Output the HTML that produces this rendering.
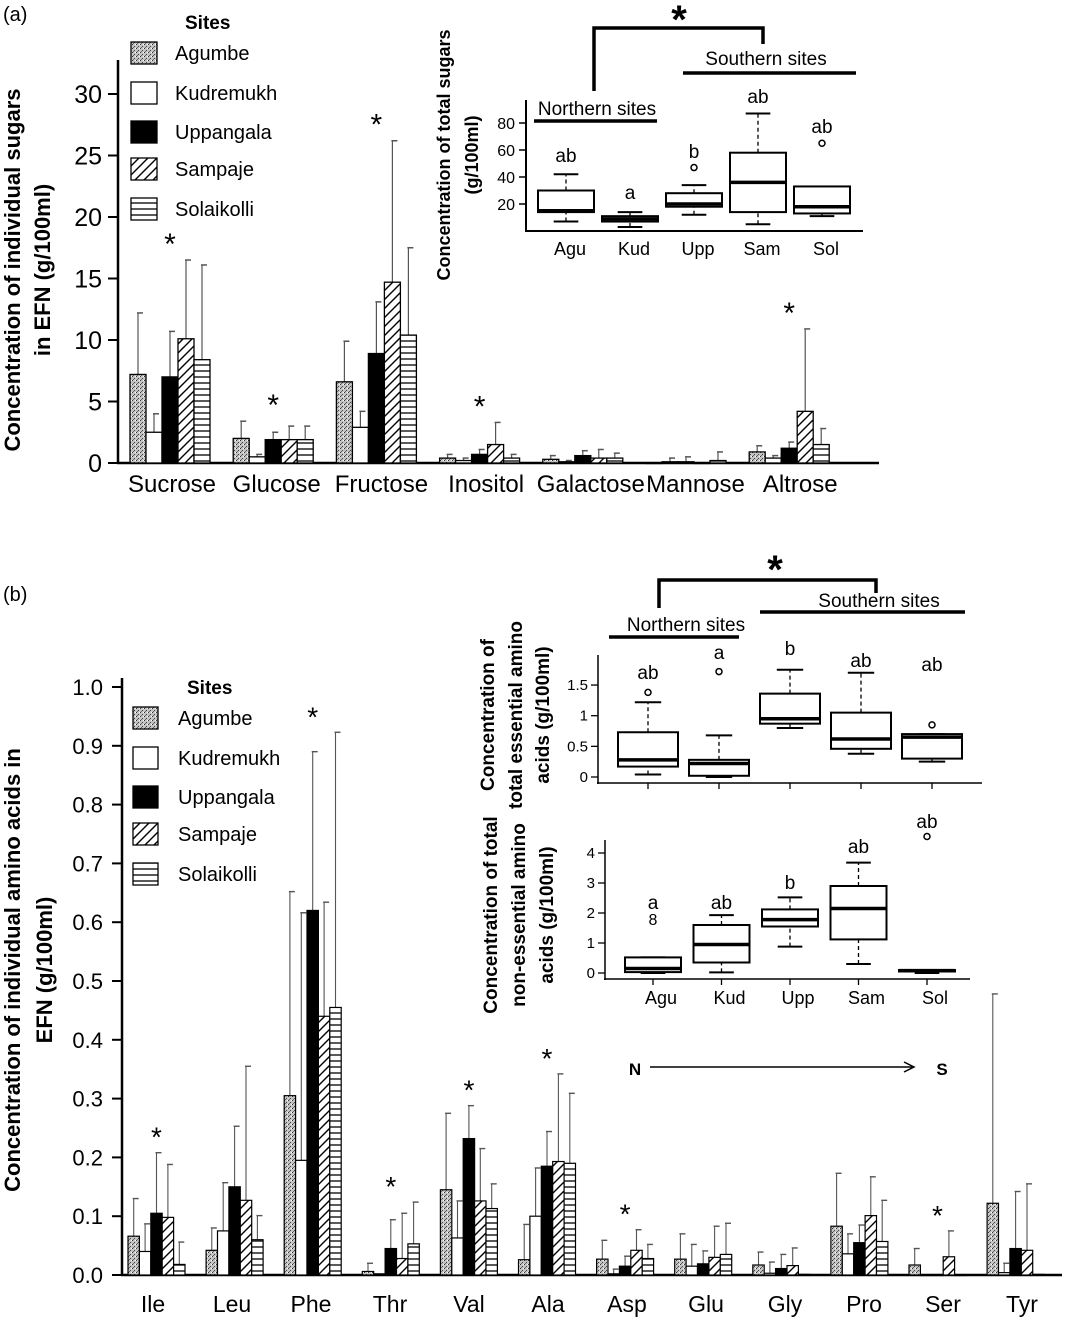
<!DOCTYPE html>
<html><head><meta charset="utf-8"><style>
html,body{margin:0;padding:0;background:#fff}
svg{display:block;font-family:"Liberation Sans",Arial,sans-serif}
</style></head><body>
<svg id="fig" width="1066" height="1319" viewBox="0 0 1066 1319">
<defs>
<pattern id="stip" width="4" height="4" patternUnits="userSpaceOnUse"><rect width="4" height="4" fill="#c4c4c4"/><rect x="0" y="0" width="1" height="1" fill="#333"/><rect x="2" y="2" width="1" height="1" fill="#444"/><rect x="3" y="0" width="1" height="1" fill="#fff"/><rect x="1" y="3" width="1" height="1" fill="#666"/></pattern>
<pattern id="diag" width="9" height="9" patternUnits="userSpaceOnUse"><rect width="9" height="9" fill="#fff"/><path d="M-1,10 L10,-1 M-3,3 L3,-3 M6,12 L12,6" stroke="#000" stroke-width="1.4"/></pattern>
<pattern id="horz" width="6" height="6" patternUnits="userSpaceOnUse"><rect width="6" height="6" fill="#fff"/><line x1="0" y1="5" x2="6" y2="5" stroke="#000" stroke-width="1.3"/></pattern>
</defs>
</svg>
<script>
// ---------- data panel (a) ----------
const sugarCats=['Sucrose','Glucose','Fructose','Inositol','Galactose','Mannose','Altrose'];
const sitesA=['Agumbe','Kudremukh','Uppangala','Sampaje','Solaikolli'];
const sugAgu=[7.2,2.0,6.6,0.4,0.3,0.0,0.9];
const sugKud=[2.5,0.5,2.9,0.2,0.1,0.1,0.4];
const sugUpp=[7.0,1.9,8.9,0.7,0.6,0.1,1.2];
const sugSam=[10.1,1.9,14.7,1.5,0.4,0.0,4.2];
const sugSol=[8.4,1.9,10.4,0.4,0.4,0.2,1.5];
const sugAguE=[12.2,3.4,9.9,0.7,0.6,0,1.4];
const sugKudE=[4.0,0.7,4.2,0.4,0.2,0.4,0.6];
const sugUppE=[10.7,2.5,13.1,1.1,1.0,0.5,1.7];
const sugSamE=[16.5,3.0,26.2,3.3,1.1,0,10.9];
const sugSolE=[16.1,3.0,17.5,0.7,0.8,0.9,2.8];
const sugStars=[true,true,true,true,false,false,true];
const sugTicks=[0,5,10,15,20,25,30];
// ---------- data panel (b) ----------
const aaCats=['Ile','Leu','Phe','Thr','Val','Ala','Asp','Glu','Gly','Pro','Ser','Tyr'];
const aaAgu=[0.066,0.042,0.305,0.006,0.145,0.026,0.027,0.027,0.017,0.083,0.017,0.122];
const aaKud=[0.04,0.075,0.195,0.002,0.063,0.1,0.002,0.015,0.003,0.036,0,0.004];
const aaUpp=[0.105,0.15,0.62,0.045,0.232,0.185,0.015,0.019,0.011,0.055,0,0.045];
const aaSam=[0.098,0.127,0.44,0.028,0.126,0.193,0.042,0.03,0.016,0.101,0.031,0.042];
const aaSol=[0.018,0.06,0.455,0.053,0.113,0.19,0.028,0.035,0.001,0.057,0,0.001];
const aaAguE=[0.13,0.08,0.652,0.02,0.275,0.086,0.059,0.07,0.039,0.173,0.045,0.478];
const aaKudE=[0.087,0.157,0.616,0,0.126,0.182,0.01,0.052,0.022,0.07,0,0.02];
const aaUppE=[0.208,0.253,0.89,0.094,0.288,0.244,0.032,0.041,0.035,0.085,0,0.142];
const aaSamE=[0.188,0.355,0.634,0.105,0.215,0.342,0.077,0.083,0.046,0.167,0.075,0.155];
const aaSolE=[0.056,0.101,0.923,0.124,0.155,0.309,0.052,0.088,0,0.127,0,0];
const aaStars=[true,false,true,true,true,true,true,false,false,false,true,false];
const aaTicks=[0,0.1,0.2,0.3,0.4,0.5,0.6,0.7,0.8,0.9,1.0];
// ---------- inset box data ----------
const boxSites=['Agu','Kud','Upp','Sam','Sol'];
const sugBox=[[7,14,15,30,42],[3,7,9,11,14],[12,18,20,28,34],[5,14,36,58,87],[11,13,18,33,33]];
const sugOut=[[],[],[47],[],[65]];
const sugLetters=['ab','a','b','ab','ab'];
const sugBoxTicks=[20,40,60,80];
const essBox=[[0.04,0.17,0.28,0.73,1.22],[0,0.02,0.22,0.28,0.68],[0.8,0.87,0.95,1.36,1.75],[0.38,0.46,0.62,1.05,1.7],[0.25,0.3,0.65,0.7,0.7]];
const essOut=[[1.38],[1.72],[],[],[0.85]];
const essLetters=['ab','a','b','ab','ab'];
const essTicks=[0,0.5,1,1.5];
const nessBox=[[0,0.03,0.15,0.52,0.52],[0.02,0.35,0.95,1.6,1.93],[0.88,1.55,1.78,2.12,2.52],[0.3,1.12,2.15,2.9,3.68],[0,0.05,0.08,0.1,0.1]];
const nessOut=[[1.8],[],[],[],[4.55]];
const nessLetters=['a','ab','b','ab','ab'];
const nessTicks=[0,1,2,3,4];

const NS='http://www.w3.org/2000/svg';
const svg=document.getElementById('fig');
function mk(tag,attrs,parent){const e=document.createElementNS(NS,tag);for(const k in attrs)e.setAttribute(k,attrs[k]);(parent||svg).appendChild(e);return e;}
function txt(s,x,y,size,opts){opts=opts||{};const e=mk('text',{x:x,y:y,'font-size':size,'text-anchor':opts.anchor||'start','font-weight':opts.bold?'bold':'normal',fill:'#000'});if(opts.rot)e.setAttribute('transform','rotate(-90 '+x+' '+y+')');e.textContent=s;return e;}
const fills=['url(#stip)','#fff','#000','url(#diag)','url(#horz)'];

// ---------------- PANEL A ----------------
const ya=v=>463-v*12.3;
const xa=i=>130+i*103.2;
const xaLabel=i=>172+i*104.7;
const bwA=16;
let t=txt('(a)',3,21,20);
let ln=mk('line',{x1:118,y1:60,x2:118,y2:464,stroke:'#000','stroke-width':2.5});
ln=mk('line',{x1:117,y1:463,x2:879,y2:463,stroke:'#000','stroke-width':2.5});
sugTicks.forEach(v=>{const l=mk('line',{x1:108,y1:ya(v),x2:118,y2:ya(v),stroke:'#000','stroke-width':2});const tt=txt(String(v),102,ya(v)+9,25,{anchor:'end'});});
const sugVals=[sugAgu,sugKud,sugUpp,sugSam,sugSol],sugErrs=[sugAguE,sugKudE,sugUppE,sugSamE,sugSolE];
sugarCats.forEach((c,i)=>{
  let mx=0;
  for(let s=0;s<5;s++){
    const v=sugVals[s][i],e=sugErrs[s][i],x=xa(i)+s*bwA;
    mx=Math.max(mx,v,e);
    if(e>v){const el=mk('line',{x1:x+bwA/2,y1:ya(v),x2:x+bwA/2,y2:ya(e),stroke:'#555','stroke-width':1.2});
      const cp=mk('line',{x1:x+bwA/2-1,y1:ya(e),x2:x+bwA/2+5,y2:ya(e),stroke:'#555','stroke-width':1.5});}
    const r=mk('rect',{x:x,y:ya(v),width:bwA,height:Math.max(0.5,463-ya(v)),fill:fills[s],stroke:'#000','stroke-width':1.3});
    
    
  }
  const lb=txt(c,xaLabel(i),492,24,{anchor:'middle'});
  if(sugStars[i]){const st=txt('*',xa(i)+2.5*bwA,ya(mx)-6,30,{anchor:'middle'});}
});
t=txt('Sites',185,29,19,{bold:true});
[42,82,121,158,198].forEach((yy,s)=>{const r=mk('rect',{x:131,y:yy,width:26,height:22,fill:fills[s],stroke:'#000','stroke-width':1.3});
  const l=txt(sitesA[s],175,yy+18,20);});
t=txt('Concentration of individual sugars',20,270,22,{bold:true,anchor:'middle',rot:true});
t=txt('in EFN (g/100ml)',50,270,22,{bold:true,anchor:'middle',rot:true});

// ---------- box plot helper ----------
function boxplot(stats,outs,letters,xs,w,yf,prefix,ly){
  stats.forEach((b,i)=>{
    const xc=xs(i);
    let e=mk('line',{x1:xc,y1:yf(b[0]),x2:xc,y2:yf(b[1]),stroke:'#000','stroke-width':1.3,'stroke-dasharray':'4,3'});
    e=mk('line',{x1:xc,y1:yf(b[3]),x2:xc,y2:yf(b[4]),stroke:'#000','stroke-width':1.3,'stroke-dasharray':'4,3'});
    e=mk('line',{x1:xc-w*0.22,y1:yf(b[0]),x2:xc+w*0.22,y2:yf(b[0]),stroke:'#000','stroke-width':2});
    e=mk('line',{x1:xc-w*0.22,y1:yf(b[4]),x2:xc+w*0.22,y2:yf(b[4]),stroke:'#000','stroke-width':2});
    e=mk('rect',{x:xc-w/2,y:yf(b[3]),width:w,height:Math.max(1,yf(b[1])-yf(b[3])),fill:'#fff',stroke:'#000','stroke-width':2});
    e=mk('line',{x1:xc-w/2,y1:yf(b[2]),x2:xc+w/2,y2:yf(b[2]),stroke:'#000','stroke-width':3.5});
    outs[i].forEach(o=>{const c=mk('circle',{cx:xc,cy:yf(o),r:3,fill:'none',stroke:'#000','stroke-width':1.5});});
    const lt=txt(letters[i],xc,ly[i],19,{anchor:'middle'});
  });
}
function line(x1,y1,x2,y2,w,name){const e=mk('line',{x1:x1,y1:y1,x2:x2,y2:y2,stroke:'#000','stroke-width':w});return e;}

// ---------- inset a ----------
const ysA=v=>231-v*1.35;
const xsA=i=>566+i*64;
line(526,100,526,232,2,'inset-a-y-axis');line(525,231,863,231,2,'inset-a-x-axis');
sugBoxTicks.forEach(v=>{line(519,ysA(v),526,ysA(v),1.5,'inset-a-y-tick');const tt=txt(String(v),515,ysA(v)+6,16,{anchor:'end'});});
boxplot(sugBox,sugOut,sugLetters,xsA,56,ysA,'inset-a',[162,199,158,103,133]);
boxSites.forEach((s,i)=>{const tt=txt(s,xsA(i)+4,255,18,{anchor:'middle'});});
t=txt('Concentration of total sugars',450,155,18,{bold:true,anchor:'middle',rot:true});
t=txt('(g/100ml)',478,155,18,{bold:true,anchor:'middle',rot:true});
t=txt('Northern sites',597,115,19,{anchor:'middle'});
line(534,121,657,121,3.5,'inset-a-northern-line');
t=txt('Southern sites',766,65,19,{anchor:'middle'});
line(683,73,856,73,3.5,'inset-a-southern-line');
const br=mk('path',{d:'M594,91 V28 H763 V44',fill:'none',stroke:'#000','stroke-width':3.5});
t=txt('*',679,33,40,{anchor:'middle',bold:true});

// ---------------- PANEL B ----------------
const yb=v=>1275-v*588;
const xb=i=>128+i*78.1;
const xbLabel=i=>153+i*79;
const bwB=11.4;
t=txt('(b)',3,601,20);
line(122,678,122,1276,2.5,'b-y-axis');line(121,1275,1062,1275,2.5,'b-x-axis');
aaTicks.forEach(v=>{line(112,yb(v),122,yb(v),2,'b-y-tick');const tt=txt(v.toFixed(1),103,yb(v)+8,22,{anchor:'end'});});
const aaVals=[aaAgu,aaKud,aaUpp,aaSam,aaSol],aaErrs=[aaAguE,aaKudE,aaUppE,aaSamE,aaSolE];
aaCats.forEach((c,i)=>{
  let mx=0;
  for(let s=0;s<5;s++){
    const v=aaVals[s][i],e=aaErrs[s][i],x=xb(i)+s*bwB;
    mx=Math.max(mx,v,e);
    if(e>v){const el=mk('line',{x1:x+bwB/2,y1:yb(v),x2:x+bwB/2,y2:yb(e),stroke:'#555','stroke-width':1.1});
      const cp=mk('line',{x1:x+bwB/2-1,y1:yb(e),x2:x+bwB/2+5,y2:yb(e),stroke:'#555','stroke-width':1.4});}
    const r=mk('rect',{x:x,y:yb(v),width:bwB,height:Math.max(0.5,1275-yb(v)),fill:fills[s],stroke:'#000','stroke-width':1.2});
    
    
  }
  const lb=txt(c,xbLabel(i),1312,23,{anchor:'middle'});
  if(aaStars[i]){const st=txt('*',xb(i)+2.5*bwB,yb(mx)-6,28,{anchor:'middle'});}
});
t=txt('Sites',187,694,19,{bold:true});
[707,747,786,823,863].forEach((yy,s)=>{const r=mk('rect',{x:133,y:yy,width:25,height:22,fill:fills[s],stroke:'#000','stroke-width':1.3});
  const l=txt(sitesA[s],178,yy+18,20);});
t=txt('Concentration of individual amino acids in',20,970,22,{bold:true,anchor:'middle',rot:true});
t=txt('EFN (g/100ml)',52,970,22,{bold:true,anchor:'middle',rot:true});
t=txt('N',635,1075,17,{bold:true,anchor:'middle'});
line(650,1067,912,1067,1.5,'north-south-arrow');
const ah=mk('path',{d:'M904,1062 L914,1067 L904,1072',fill:'none',stroke:'#000','stroke-width':1.5});
t=txt('S',942,1075,17,{bold:true,anchor:'middle'});

// ---------- inset b1 (essential) ----------
const ysE=v=>777-v*61.3;
const xsE=i=>648+i*71;
line(598,655,598,784,1.5,'inset-b1-y-axis');line(597,783,982,783,1.5,'inset-b1-x-axis');
essTicks.forEach(v=>{line(591,ysE(v),598,ysE(v),1.3,'inset-b1-y-tick');const tt=txt(String(v),588,ysE(v)+5,15,{anchor:'end'});});
boxSites.forEach((s,i)=>line(xsE(i),783,xsE(i),789,1.3,'inset-b1-x-tick'));
boxplot(essBox,essOut,essLetters,xsE,60,ysE,'inset-b1',[679,659,655,667,671]);
t=txt('Concentration of',494,715,19,{bold:true,anchor:'middle',rot:true});
t=txt('total essential amino',522,715,19,{bold:true,anchor:'middle',rot:true});
t=txt('acids (g/100ml)',549,715,19,{bold:true,anchor:'middle',rot:true});
t=txt('Northern sites',686,631,19,{anchor:'middle'});
line(609,637,739,637,3.5,'inset-b-northern-line');
t=txt('Southern sites',879,607,19,{anchor:'middle'});
line(760,612,965,612,3.5,'inset-b-southern-line');
const br2=mk('path',{d:'M659,608 V580 H876 V593',fill:'none',stroke:'#000','stroke-width':3.5});
t=txt('*',775,583,40,{anchor:'middle',bold:true});

// ---------- inset b2 (non-essential) ----------
const ysN=v=>973-v*30;
const xsN=i=>653+i*68.5;
line(605,840,605,980,1.5,'inset-b2-y-axis');line(604,979,970,979,1.5,'inset-b2-x-axis');
nessTicks.forEach(v=>{line(598,ysN(v),605,ysN(v),1.3,'inset-b2-y-tick');const tt=txt(String(v),595,ysN(v)+5,15,{anchor:'end'});});
boxSites.forEach((s,i)=>{line(xsN(i),979,xsN(i),985,1.3,'inset-b2-x-tick');const tt=txt(s,xsN(i)+8,1004,18,{anchor:'middle'});});
boxplot(nessBox,[[],[],[],[],nessOut[4]],nessLetters,xsN,56,ysN,'inset-b2',[909,909,889,853,828]);
t=txt('8',xsN(0),ysN(nessOut[0][0])+6,16,{anchor:'middle'});
t=txt('Concentration of  total',497,915,19,{bold:true,anchor:'middle',rot:true});
t=txt('non-essential amino',525,915,19,{bold:true,anchor:'middle',rot:true});
t=txt('acids (g/100ml)',553,915,19,{bold:true,anchor:'middle',rot:true});
</script>
</body></html>
